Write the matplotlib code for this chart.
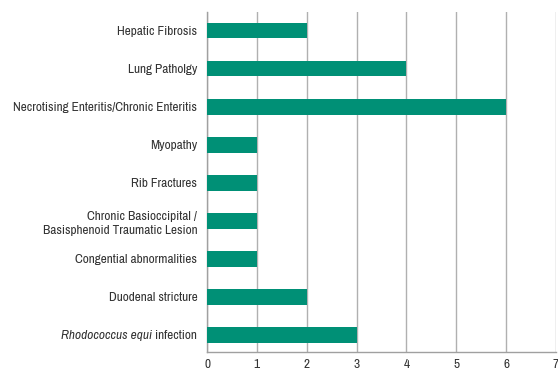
import matplotlib
matplotlib.use("Agg")
import matplotlib.pyplot as plt
from matplotlib import font_manager

families = sorted({f.name for f in font_manager.fontManager.ttflist})
narrow = [n for n in families if "Condensed" in n or "Narrow" in n]
base = narrow[0] if narrow else "Liberation Sans"
plt.rcParams["font.family"] = [base, "DejaVu Sans"]

categories = [
    "Hepatic Fibrosis",
    "Lung Patholgy",
    "Necrotising Enteritis/Chronic Enteritis",
    "Myopathy",
    "Rib Fractures",
    "Chronic Basioccipital /\nBasisphenoid Traumatic Lesion",
    "Congential abnormalities",
    "Duodenal stricture",
    "infection",
]
italic_prefix = {8: "Rhodococcus equi"}
values = [2, 4, 6, 1, 1, 1, 1, 2, 3]
x_ticks = [0, 1, 2, 3, 4, 5, 6, 7]

fig = plt.figure(figsize=(5.58, 3.71), dpi=100)
ax = fig.add_axes([0.371, 0.051, 0.6254, 0.917])

pos = list(range(len(categories)))
ax.barh(pos, values, height=0.4, color="#009076", zorder=3)

fs = 9.6 if narrow else 8
text_color = "#333333"
ax.set_xlim(0, 7)
ax.set_ylim(8.45, -0.5)
ax.set_xticks(x_ticks)
ax.set_yticks(pos)
ax.set_yticklabels(categories, fontsize=fs, color=text_color)
ax.tick_params(axis="x", labelsize=fs, labelcolor=text_color, length=0, pad=5)
ax.tick_params(axis="y", length=0, pad=7)
labels = ax.get_yticklabels()
for lab in labels:
    lab.set_horizontalalignment("right")
    lab.set_multialignment("right")
    lab.set_linespacing(1.35)

# italic species name placed just before its tick label
for idx, prefix in italic_prefix.items():
    ax.annotate(prefix + " ", xy=(0, 0.5), xycoords=labels[idx],
                ha="right", va="center", fontsize=fs, color=text_color,
                fontstyle="italic", annotation_clip=False)

ax.grid(axis="x", color="#b0b0b0", linewidth=1.0, zorder=0)
for side in ("top", "right"):
    ax.spines[side].set_visible(False)
for side in ("left", "bottom"):
    ax.spines[side].set_color("#a0a0a0")
    ax.spines[side].set_linewidth(1.0)

fig.savefig("out.png", dpi=100)
